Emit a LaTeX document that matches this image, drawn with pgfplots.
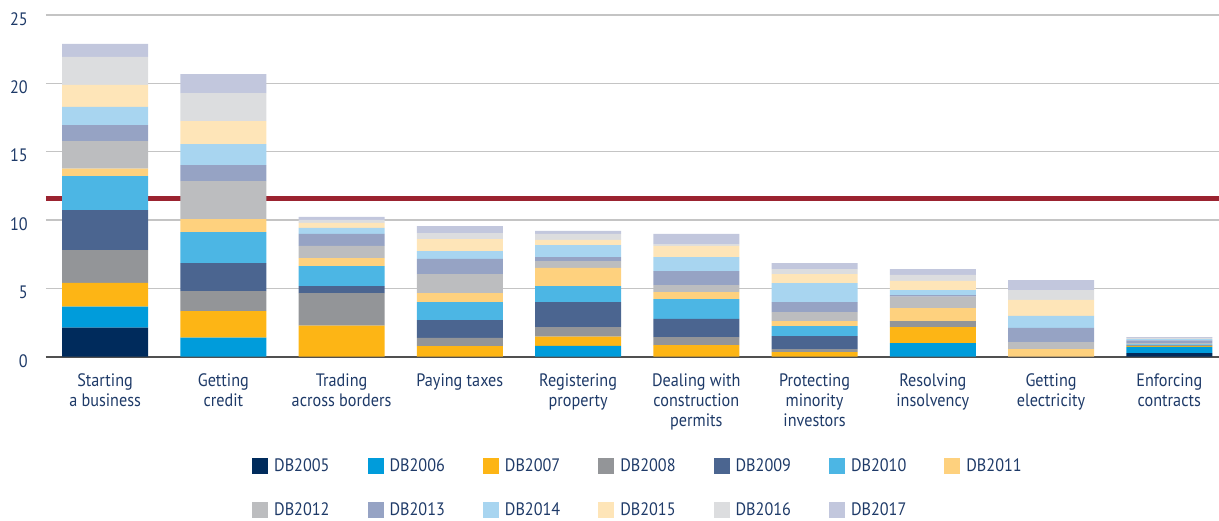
\documentclass[border=0pt]{standalone}
\usepackage{fontspec}
\setmainfont{PT Sans}[FakeStretch=0.9]
\usepackage{pgfplots}
\usepackage{pgfplotstable}
\pgfplotsset{compat=1.18}

\definecolor{txt}{HTML}{1E3A68}
\definecolor{gridc}{HTML}{C4C4C4}
\definecolor{axisc}{HTML}{505050}
\definecolor{redl}{HTML}{9B2330}
\definecolor{c05}{HTML}{002B5C}
\definecolor{c06}{HTML}{009CDB}
\definecolor{c07}{HTML}{FDB515}
\definecolor{c08}{HTML}{939598}
\definecolor{c09}{HTML}{4B6590}
\definecolor{c10}{HTML}{4CB6E4}
\definecolor{c11}{HTML}{FED17E}
\definecolor{c12}{HTML}{BCBDBF}
\definecolor{c13}{HTML}{96A3C4}
\definecolor{c14}{HTML}{A8D5F0}
\definecolor{c15}{HTML}{FEE5B8}
\definecolor{c16}{HTML}{DCDDDF}
\definecolor{c17}{HTML}{C2C7DD}

% one row per indicator, one column per DB edition
\pgfplotstableread{
x d05  d06  d07  d08  d09  d10  d11  d12  d13  d14  d15  d16  d17
0 2.12 1.54 1.75 2.39 2.93 2.49 0.54 2.02 1.17 1.32 1.61 2.05 0.95
1 0    1.39 1.95 1.46 2.05 2.27 0.95 2.78 1.17 1.54 1.68 2.05 1.39
2 0    0    2.27 2.39 0.51 1.46 0.59 0.88 0.88 0.44 0.37 0.22 0.22
3 0    0    0.78 0.59 1.31 1.32 0.66 1.39 1.10 0.58 0.88 0.44 0.51
4 0    0.80 0.66 0.71 1.83 1.17 1.32 0.51 0.29 0.88 0.37 0.44 0.22
5 0    0    0.85 0.59 1.32 1.46 0.51 0.51 1.03 1.02 0.81 0.14 0.74
6 0    0    0.34 0.22 0.95 0.73 0.37 0.66 0.73 1.39 0.66 0.36 0.44
7 0    1.00 1.17 0.44 0    0    0.95 0.83 0.12 0.37 0.66 0.44 0.43
8 0    0    0    0    0    0    0.56 0.51 1.03 0.88 1.17 0.73 0.73
9 0.27 0.44 0.07 0.07 0    0.05 0    0.10 0.20 0.08 0    0.10 0.05
}\data

\begin{document}
\begin{tikzpicture}[font=\fontsize{18}{20}\selectfont, text=txt]
\useasboundingbox (0,0) rectangle (1219pt,520pt);
\begin{axis}[
  at={(46pt,163.3pt)}, anchor=south west,
  scale only axis, width=1173pt, height=341.7pt,
  ybar stacked, bar width=86pt,
  xmin=-0.5, xmax=9.42, ymin=0, ymax=25,
  axis x line*=bottom, axis y line*=left,
  x axis line style={draw=axisc, line width=2pt, -},
  y axis line style={draw=none},
  tick style={draw=none},
  xtick={0,...,9},
  xticklabels={Starting\\a business, Getting\\credit, Trading\\across borders,
    Paying taxes, Registering\\property, Dealing with\\construction\\permits,
    Protecting\\minority\\investors, Resolving\\insolvency, Getting\\electricity,
    Enforcing\\contracts},
  ytick={0,5,...,25},
  ymajorgrids, grid style={draw=gridc, line width=1.2pt},
  /pgf/number format/assume math mode=true,
  tick label style={font=\fontsize{18}{20}\selectfont, text=txt},
  xticklabel style={anchor=north, inner sep=0pt, yshift=-17pt, align=center},
  yticklabel style={anchor=east, inner sep=0pt, xshift=-18pt, yshift=-4pt},
  legend columns=7,
  legend style={draw=none, fill=none, inner sep=0pt,
    at={(0.1756,-0.2965)}, anchor=north west,
    font=\fontsize{18}{20}\selectfont, text=txt,
    nodes={inner sep=0pt, anchor=west},
    row sep=27.5pt,
    /tikz/every odd column/.append style={column sep=6pt},
    /tikz/every even column/.append style={column sep=38pt}},
  legend image code/.code={\fill[#1] (0pt,-8pt) rectangle (16pt,8pt);},
]
\addplot[fill=c05, draw=none] table[x=x, y=d05] {\data};
\addplot[fill=c06, draw=none] table[x=x, y=d06] {\data};
\addplot[fill=c07, draw=none] table[x=x, y=d07] {\data};
\addplot[fill=c08, draw=none] table[x=x, y=d08] {\data};
\addplot[fill=c09, draw=none] table[x=x, y=d09] {\data};
\addplot[fill=c10, draw=none] table[x=x, y=d10] {\data};
\addplot[fill=c11, draw=none] table[x=x, y=d11] {\data};
\addplot[fill=c12, draw=none] table[x=x, y=d12] {\data};
\addplot[fill=c13, draw=none] table[x=x, y=d13] {\data};
\addplot[fill=c14, draw=none] table[x=x, y=d14] {\data};
\addplot[fill=c15, draw=none] table[x=x, y=d15] {\data};
\addplot[fill=c16, draw=none] table[x=x, y=d16] {\data};
\addplot[fill=c17, draw=none] table[x=x, y=d17] {\data};
\legend{DB2005,DB2006,DB2007,DB2008,DB2009,DB2010,DB2011,
        DB2012,DB2013,DB2014,DB2015,DB2016,DB2017}
% average line
\draw[redl, line width=5pt] (axis cs:-0.5,11.6) -- (axis cs:9.42,11.6);
\end{axis}
\end{tikzpicture}
\end{document}
